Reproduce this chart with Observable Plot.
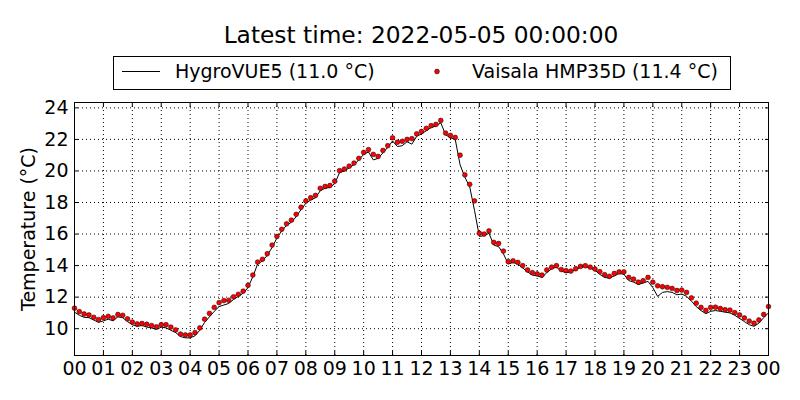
<!DOCTYPE html>
<html>
<head>
<meta charset="utf-8">
<script src="https://cdn.jsdelivr.net/npm/d3@7"></script>
<script src="https://cdn.jsdelivr.net/npm/@observablehq/plot@0.6"></script>
<style>
  html, body { margin: 0; padding: 0; background: white; }
  #wrap { position: relative; width: 800px; height: 400px; font-family: "DejaVu Sans", sans-serif; }
  #overlay { position: absolute; left: 0; top: 0; pointer-events: none; }
</style>
</head>
<body>
<div id="wrap"></div>
<script>
// ---- data (10-minute samples, 2022-05-04 00:00 to 2022-05-05 00:00) ----
const titleText = "Latest time: 2022-05-05 00:00:00";
const seriesNames = ["HygroVUE5 (11.0 °C)", "Vaisala HMP35D (11.4 °C)"];
const stepMinutes = 10;
const xTickLabels = ["00","01","02","03","04","05","06","07","08","09","10","11","12","13","14","15","16","17","18","19","20","21","22","23","00"];
const yTicks = [10, 12, 14, 16, 18, 20, 22, 24];

const vaisala = [
  11.3, 11.08, 10.93, 10.87, 10.72, 10.58,
  10.7, 10.78, 10.68, 10.9, 10.85, 10.62,
  10.42, 10.3, 10.33, 10.28, 10.2, 10.12,
  10.25, 10.25, 10.1, 9.92, 9.66, 9.6,
  9.6, 9.75, 10.05, 10.6, 10.97, 11.35,
  11.65, 11.78, 11.8, 12.02, 12.18, 12.38,
  12.75, 13.4, 14.22, 14.4, 14.75, 15.3,
  15.85, 16.3, 16.65, 16.88, 17.25, 17.7,
  18.1, 18.3, 18.45, 18.9, 19.02, 19.08,
  19.35, 20.02, 20.12, 20.3, 20.5, 20.8,
  21.17, 21.35, 21.05, 20.92, 21.3, 21.6,
  22.1, 21.82, 21.88, 22.0, 22.05, 22.35,
  22.5, 22.7, 22.87, 22.95, 23.2, 22.4,
  22.25, 22.12, 21.0, 19.75, 19.15, 18.1,
  16.05, 16.0, 16.2, 15.47, 15.4, 14.92,
  14.25, 14.3, 14.2, 14.0, 13.72, 13.55,
  13.48, 13.4, 13.72, 13.9, 14.0, 13.75,
  13.68, 13.65, 13.8, 13.95, 13.99, 13.9,
  13.78, 13.62, 13.42, 13.32, 13.5, 13.6,
  13.6, 13.25, 13.14, 12.95, 13.04, 13.25,
  12.95, 12.72, 12.66, 12.62, 12.55, 12.42,
  12.45, 12.3, 11.95, 11.62, 11.35, 11.16,
  11.35, 11.36, 11.28, 11.2, 11.18, 11.02,
  10.87, 10.68, 10.48, 10.35, 10.55, 10.9,
  11.4
];

const hygro = [
  11.05, 10.85, 10.72, 10.7, 10.55, 10.4,
  10.5, 10.6, 10.5, 10.75, 10.7, 10.45,
  10.25, 10.15, 10.2, 10.1, 10.05, 9.95,
  10.1, 10.05, 9.9, 9.75, 9.5, 9.42,
  9.42, 9.55, 9.9, 10.4, 10.75, 11.1,
  11.4, 11.5, 11.6, 11.85, 12.05, 12.25,
  12.6, 13.3, 14.1, 14.3, 14.65, 15.15,
  15.75, 16.2, 16.55, 16.75, 17.1, 17.55,
  17.95, 18.15, 18.3, 18.75, 18.9, 18.95,
  19.2, 19.9, 20.0, 20.2, 20.4, 20.7,
  21.05, 21.2, 20.7, 20.8, 21.15, 21.5,
  21.9, 21.55, 21.6, 21.85, 21.7, 22.2,
  22.35, 22.55, 22.75, 22.85, 23.05, 22.3,
  22.1, 22.0, 20.4, 19.6, 19.0, 17.5,
  15.85, 15.9, 16.05, 15.3, 15.2, 14.75,
  14.1, 14.2, 14.1, 13.85, 13.6, 13.4,
  13.35, 13.25, 13.55, 13.8, 13.9, 13.65,
  13.55, 13.6, 13.75, 13.9, 13.95, 13.85,
  13.7, 13.45, 13.25, 13.2, 13.35, 13.5,
  13.45, 13.05, 12.95, 12.8, 12.9, 13.0,
  12.6, 12.05, 12.3, 12.35, 12.3, 12.15,
  12.2, 12.05, 11.75, 11.4, 11.15, 10.95,
  11.1, 11.15, 11.1, 11.05, 11.0, 10.85,
  10.65, 10.45, 10.25, 10.15, 10.35, 10.7,
  11.0
];

// ---- build table ----
const rows = vaisala.map((v, i) => ({ h: i * stepMinutes / 60, vaisala: v, hygro: hygro[i] }));
const xTicks = xTickLabels.map((_, i) => i);

const grid = { stroke: "black", strokeOpacity: 1, strokeWidth: 1, strokeDasharray: "1,3" };

const chart = Plot.plot({
  width: 800,
  height: 400,
  marginTop: 102,
  marginBottom: 45,
  marginLeft: 74,
  marginRight: 32,
  style: { fontFamily: "DejaVu Sans", fontSize: "19px", color: "black", background: "white", overflow: "visible" },
  x: { domain: [0, 24] },
  y: { domain: [8.3, 24.34] },
  marks: [
    Plot.gridX(xTicks, grid),
    Plot.gridY(yTicks, grid),
    // inward tick marks on all sides
    Plot.axisX(xTicks, { anchor: "bottom", tickSize: -4, tickFormat: () => "", label: null }),
    Plot.axisX(xTicks, { anchor: "top", tickSize: -4, tickFormat: () => "", label: null }),
    Plot.axisY(yTicks, { anchor: "left", tickSize: -4, tickFormat: () => "", label: null }),
    Plot.axisY(yTicks, { anchor: "right", tickSize: -4, tickFormat: () => "", label: null }),
    // labels
    Plot.axisX(xTicks, { anchor: "bottom", tickSize: 0, tickPadding: 6, tickFormat: (d, i) => xTickLabels[i], label: null, fontSize: 19 }),
    Plot.axisY(yTicks, { anchor: "left", tickSize: 0, tickPadding: 6, fontSize: 19,
      label: "Temperature (°C)", labelAnchor: "center", labelArrow: "none", labelOffset: 53 }),
    Plot.line(rows, { x: "h", y: "hygro", stroke: "black", strokeWidth: 1 }),
    Plot.dot(rows, { x: "h", y: "vaisala", fill: "#ff0000", stroke: "black", strokeWidth: 0.5, r: 2.4 }),
    Plot.frame({ stroke: "black", strokeWidth: 1 })
  ]
});

const wrap = document.getElementById("wrap");
wrap.appendChild(chart);

// ---- title and legend overlay ----
const ns = "http://www.w3.org/2000/svg";
const ov = document.createElementNS(ns, "svg");
ov.setAttribute("id", "overlay");
ov.setAttribute("width", 800);
ov.setAttribute("height", 100);
ov.style.fontFamily = '"DejaVu Sans", sans-serif';
function el(tag, attrs, text) {
  const e = document.createElementNS(ns, tag);
  for (const k in attrs) e.setAttribute(k, attrs[k]);
  if (text != null) e.textContent = text;
  ov.appendChild(e);
  return e;
}
el("text", { x: 421, y: 43, "text-anchor": "middle", "font-size": 23.3, fill: "black" }, titleText);
el("rect", { x: 113.5, y: 56.5, width: 617, height: 33, fill: "white", stroke: "black", "stroke-width": 1 });
el("line", { x1: 122, x2: 160, y1: 71.5, y2: 71.5, stroke: "black", "stroke-width": 1 });
el("text", { x: 175, y: 78, "font-size": 19, fill: "black" }, seriesNames[0]);
el("circle", { cx: 437, cy: 71.5, r: 2.4, fill: "#ff0000", stroke: "black", "stroke-width": 0.5 });
el("text", { x: 472, y: 78, "font-size": 19, fill: "black" }, seriesNames[1]);
wrap.appendChild(ov);
</script>
</body>
</html>
